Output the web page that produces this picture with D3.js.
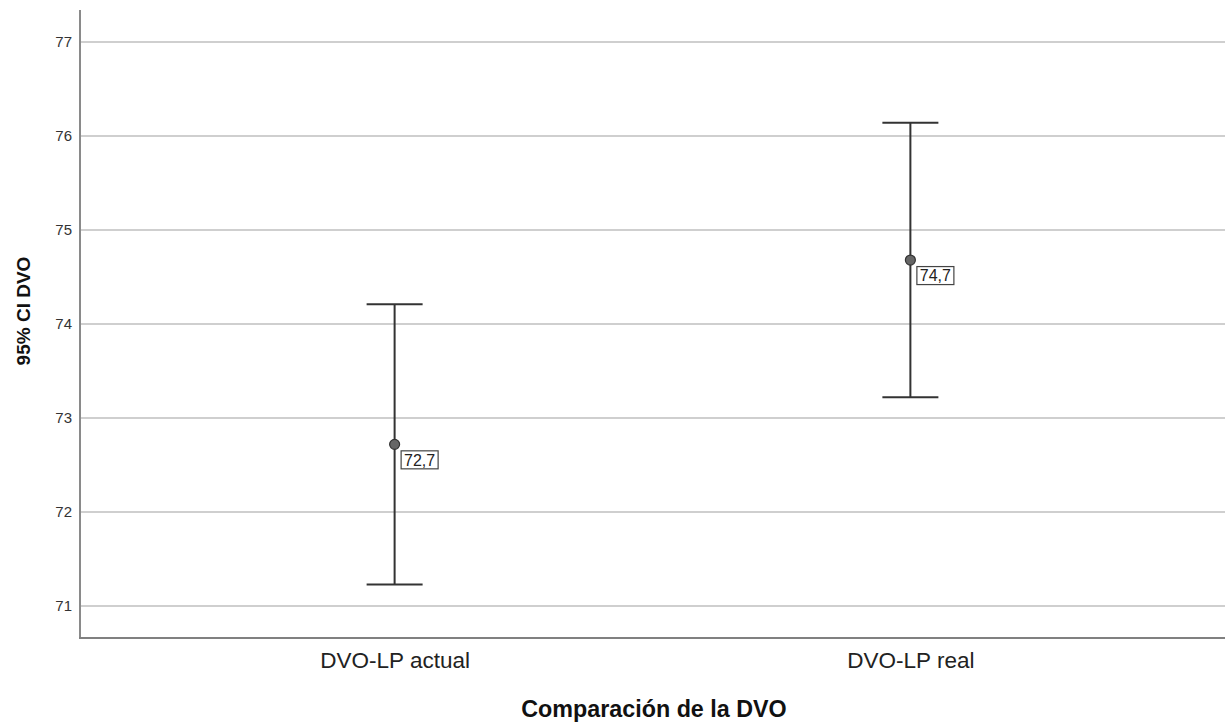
<!DOCTYPE html>
<html>
<head>
<meta charset="utf-8">
<script src="https://cdn.jsdelivr.net/npm/d3@7"></script>
<style>
  html, body { margin: 0; padding: 0; background: #fff; }
  svg { display: block; font-family: "Liberation Sans", Arial, sans-serif; }
</style>
</head>
<body>
<svg id="chart" width="1225" height="722"></svg>
<script>
const categories = ["DVO-LP actual", "DVO-LP real"];
const means = [72.72, 74.68];
const lower = [71.23, 73.22];
const upper = [74.21, 76.14];
const yTicks = [71, 72, 73, 74, 75, 76, 77];
const xTitle = "Comparación de la DVO";
const yTitle = "95% CI DVO";

const svg = d3.select("#chart");
const mLeft = 80, mRight = 1225, mTop = 10, mBottom = 638;

const x = d3.scalePoint().domain(categories).range([mLeft, mRight]).padding(0.61);
const y = d3.scaleLinear().domain([70.66, 77.34]).range([mBottom, mTop]);

// gridlines
svg.append("g").selectAll("line").data(yTicks).join("line")
  .attr("x1", mLeft).attr("x2", mRight)
  .attr("y1", d => y(d)).attr("y2", d => y(d))
  .attr("stroke", "#cfcfcf").attr("stroke-width", 2);

// y axis
const yAxis = svg.append("g").attr("transform", `translate(${mLeft},0)`)
  .call(d3.axisLeft(y).tickValues(yTicks).tickSize(0).tickPadding(8).tickFormat(d3.format("d")));
yAxis.select(".domain").remove();
yAxis.selectAll("text").attr("font-size", 15).attr("fill", "#333").attr("font-family", "Liberation Sans, Arial, sans-serif");

// x axis
const xAxis = svg.append("g").attr("transform", `translate(0,${mBottom})`)
  .call(d3.axisBottom(x).tickSize(0).tickPadding(14));
xAxis.select(".domain").remove();
xAxis.selectAll("text").attr("font-size", 22.5).attr("fill", "#222").attr("font-family", "Liberation Sans, Arial, sans-serif");

// axis lines
svg.append("line").attr("x1", mLeft).attr("x2", mLeft).attr("y1", mTop).attr("y2", mBottom)
  .attr("stroke", "#8a8a8a").attr("stroke-width", 2);
svg.append("line").attr("x1", mLeft - 1).attr("x2", mRight).attr("y1", mBottom).attr("y2", mBottom)
  .attr("stroke", "#808080").attr("stroke-width", 2);

// error bars
const capHalf = 28;
const bars = svg.append("g");
categories.forEach((c, i) => {
  const cx = x(c);
  bars.append("line").attr("x1", cx).attr("x2", cx).attr("y1", y(upper[i])).attr("y2", y(lower[i]))
    .attr("stroke", "#333").attr("stroke-width", 2);
  [upper[i], lower[i]].forEach(v => {
    bars.append("line").attr("x1", cx - capHalf).attr("x2", cx + capHalf).attr("y1", y(v)).attr("y2", y(v))
      .attr("stroke", "#333").attr("stroke-width", 2);
  });
  bars.append("circle").attr("cx", cx).attr("cy", y(means[i])).attr("r", 5)
    .attr("fill", "#666").attr("stroke", "#333").attr("stroke-width", 1.2);
  const lbl = d3.format(".1f")(means[i]).replace(".", ",");
  const bx = cx + 6.5, by = y(means[i]) + 6.5;
  bars.append("rect").attr("x", bx).attr("y", by).attr("width", 37).attr("height", 18)
    .attr("fill", "#fff").attr("stroke", "#444").attr("stroke-width", 1.2);
  bars.append("text").attr("x", bx + 18.5).attr("y", by + 14.8).attr("text-anchor", "middle")
    .attr("font-size", 16).attr("fill", "#222").text(lbl);
});

// titles
svg.append("text").attr("x", 654).attr("y", 717).attr("text-anchor", "middle")
  .attr("font-size", 23.3).attr("font-weight", "bold").attr("fill", "#111").text(xTitle);
svg.append("text").attr("transform", "translate(30,311) rotate(-90)").attr("text-anchor", "middle")
  .attr("font-size", 19).attr("font-weight", "bold").attr("fill", "#111").text(yTitle);
</script>
</body>
</html>
